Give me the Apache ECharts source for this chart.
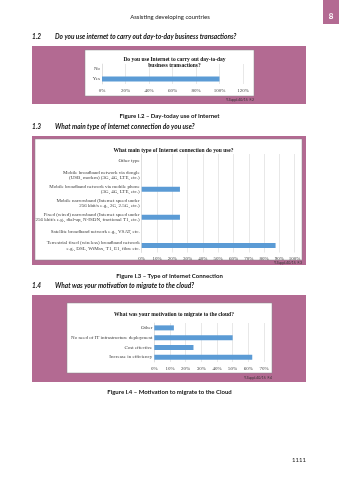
<!DOCTYPE html>
<html lang="en">

<head>
    <meta charset="UTF-8">
    <title>Assisting developing countries</title>
    <script src="https://cdn.jsdelivr.net/npm/echarts@6/dist/echarts.min.js"></script>
</head>
<style>
    * {
        padding: 0;
        margin: 0;
    }

    .box {
        width: 339px;
        height: 480px;
    }
</style>

<body>
    <div class="box" id="myChart"></div>
    <script>
        // chart data
        const useCats = ['No', 'Yes'];
        const useValues = [0, 100];
        const useTicks = [0, 20, 40, 60, 80, 100, 120];

        const connCats = [
            'Other type',
            'Mobile broadband network via dongle\n(USB, modem) (3G, 4G, LTE, etc.)',
            'Mobile broadband network via mobile phone\n(3G, 4G, LTE, etc.)',
            'Mobile narrowband (Internet speed under\n256 kbit/s e.g., 2G, 2.5G, etc.)',
            'Fixed (wired) narrowband (Internet speed under\n256 kbit/s e.g., dial-up, N-ISDN, fractional T1, etc.)',
            'Satellite broadband network e.g., VSAT, etc.',
            'Terrestrial fixed (wireless) broadband network\ne.g., DSL, WiMax, T1, E1, fibre etc.'
        ];
        const connValues = [0, 0, 25, 0, 25, 0, 87.5];
        const connTicks = [0, 10, 20, 30, 40, 50, 60, 70, 80, 90, 100];

        const cloudCats = ['Other', 'No need of IT infrastructure deployment', 'Cost effective', 'Increase in efficiency'];
        const cloudValues = [12.5, 50, 25, 62.5];
        const cloudTicks = [0, 10, 20, 30, 40, 50, 60, 70];

        const pink = '#b36a92';
        const barColor = '#5b9bd5';
        const serif = 'Liberation Serif';
        const sans = 'Lato';

        let myChart = echarts.init(document.getElementById('myChart'));

        function xAx(idx, ticks) {
            return {
                type: 'value',
                gridIndex: idx,
                min: ticks[0],
                max: ticks[ticks.length - 1],
                interval: ticks[1] - ticks[0],
                axisLine: { show: false },
                axisTick: { show: false },
                axisLabel: {
                    formatter: '{value}%',
                    fontFamily: serif,
                    fontSize: 5,
                    color: '#404040',
                    margin: 4
                },
                splitLine: { lineStyle: { color: '#d9d9d9', width: 0.6 } }
            };
        }

        function yAx(idx, cats) {
            return {
                type: 'category',
                gridIndex: idx,
                data: cats,
                inverse: true,
                axisLine: { lineStyle: { color: '#d9d9d9', width: 0.6 } },
                axisTick: { show: false },
                axisLabel: {
                    fontFamily: serif,
                    fontSize: 5,
                    lineHeight: 5.5,
                    color: '#404040',
                    margin: 2
                }
            };
        }

        function bars(idx, data, w) {
            return {
                type: 'bar',
                xAxisIndex: idx,
                yAxisIndex: idx,
                data: data,
                barWidth: w,
                itemStyle: { color: barColor },
                silent: true
            };
        }

        function note(x, y, t) {
            return {
                type: 'text', x: x, y: y,
                style: { text: t, font: '3.5px ' + sans, fill: '#333', align: 'right', verticalAlign: 'middle' }
            };
        }

        function head(y, num, t) {
            return [{
                type: 'text', x: 32, y: y,
                style: { text: num, font: 'italic bold 6.5px ' + sans, fill: '#111', verticalAlign: 'middle' }
            }, {
                type: 'text', x: 55, y: y,
                style: { text: t, font: 'italic bold 6.5px ' + sans, fill: '#111', verticalAlign: 'middle' }
            }];
        }

        function caption(y, t) {
            return {
                type: 'text', x: 169.5, y: y,
                style: { text: t, font: 'bold 6px ' + sans, fill: '#111', align: 'center', verticalAlign: 'middle' }
            };
        }

        let option = {
            backgroundColor: '#ffffff',
            animation: false,
            graphic: [
                // page decoration, drawn under the plots
                { type: 'rect', z: -10, shape: { x: 323, y: 0, width: 16, height: 24 }, style: { fill: pink } },
                { type: 'text', z: -10, x: 331, y: 16, style: { text: '8', font: 'bold 8px ' + sans, fill: '#fff', align: 'center', verticalAlign: 'middle' } },
                { type: 'text', z: -10, x: 170, y: 17, style: { text: 'Assisting developing countries', font: '6px ' + sans, fill: '#222', align: 'center', verticalAlign: 'middle' } },
                ...head(37, '1.2', 'Do you use internet to carry out day-to-day business transactions?'),
                { type: 'rect', z: -10, shape: { x: 32, y: 46, width: 274, height: 58 }, style: { fill: pink } },
                { type: 'rect', z: -9, shape: { x: 85, y: 50, width: 169, height: 46 }, style: { fill: '#fff', stroke: '#888', lineWidth: 0.5 } },
                note(254, 100, 'Y.Suppl.40/15_F.2'),
                caption(116, 'Figure I.2 – Day-today use of Internet'),
                ...head(127, '1.3', 'What main type of Internet connection do you use?'),
                { type: 'rect', z: -10, shape: { x: 32, y: 136, width: 274, height: 129 }, style: { fill: pink } },
                { type: 'rect', z: -9, shape: { x: 35, y: 139, width: 267, height: 121 }, style: { fill: '#fff', stroke: '#888', lineWidth: 0.5 } },
                note(302, 263, 'Y.Suppl.40/15_F.3'),
                caption(276.5, 'Figure I.3 – Type of Internet Connection'),
                ...head(286, '1.4', 'What was your motivation to migrate to the cloud?'),
                { type: 'rect', z: -10, shape: { x: 32, y: 295, width: 274, height: 87 }, style: { fill: pink } },
                { type: 'rect', z: -9, shape: { x: 67, y: 303, width: 205, height: 70 }, style: { fill: '#fff', stroke: '#888', lineWidth: 0.5 } },
                note(272, 378, 'Y.Suppl.40/15_F.4'),
                caption(392.5, 'Figure I.4 – Motivation to migrate to the Cloud'),
                { type: 'text', z: -10, x: 306, y: 460, style: { text: '1111', font: '6px ' + sans, fill: '#222', align: 'right', verticalAlign: 'middle' } }
            ],
            title: [{
                text: 'Do you use Internet to carry out day-to-day\nbusiness transactions?',
                left: 169.5, top: 52, textAlign: 'center',
                textStyle: { fontFamily: serif, fontSize: 5.5, fontWeight: 'bold', color: '#111', lineHeight: 5.5 }
            }, {
                text: 'What main type of Internet connection do you use?',
                left: 168.5, top: 143, textAlign: 'center',
                textStyle: { fontFamily: serif, fontSize: 5.5, fontWeight: 'bold', color: '#111' }
            }, {
                text: 'What was your motivation to migrate to the cloud?',
                left: 169, top: 307, textAlign: 'center',
                textStyle: { fontFamily: serif, fontSize: 5.5, fontWeight: 'bold', color: '#111' }
            }],
            grid: [
                { left: 102, right: 96, top: 64, bottom: 396 },
                { left: 141.7, right: 44.3, top: 154, bottom: 227.5 },
                { left: 154.3, right: 75, top: 323, bottom: 118 }
            ],
            xAxis: [xAx(0, useTicks), xAx(1, connTicks), xAx(2, cloudTicks)],
            yAxis: [yAx(0, useCats), yAx(1, connCats), yAx(2, cloudCats)],
            series: [bars(0, useValues, 5), bars(1, connValues, 5), bars(2, cloudValues, 5)]
        };
        myChart.setOption(option, true);
    </script>

</body>

</html>
